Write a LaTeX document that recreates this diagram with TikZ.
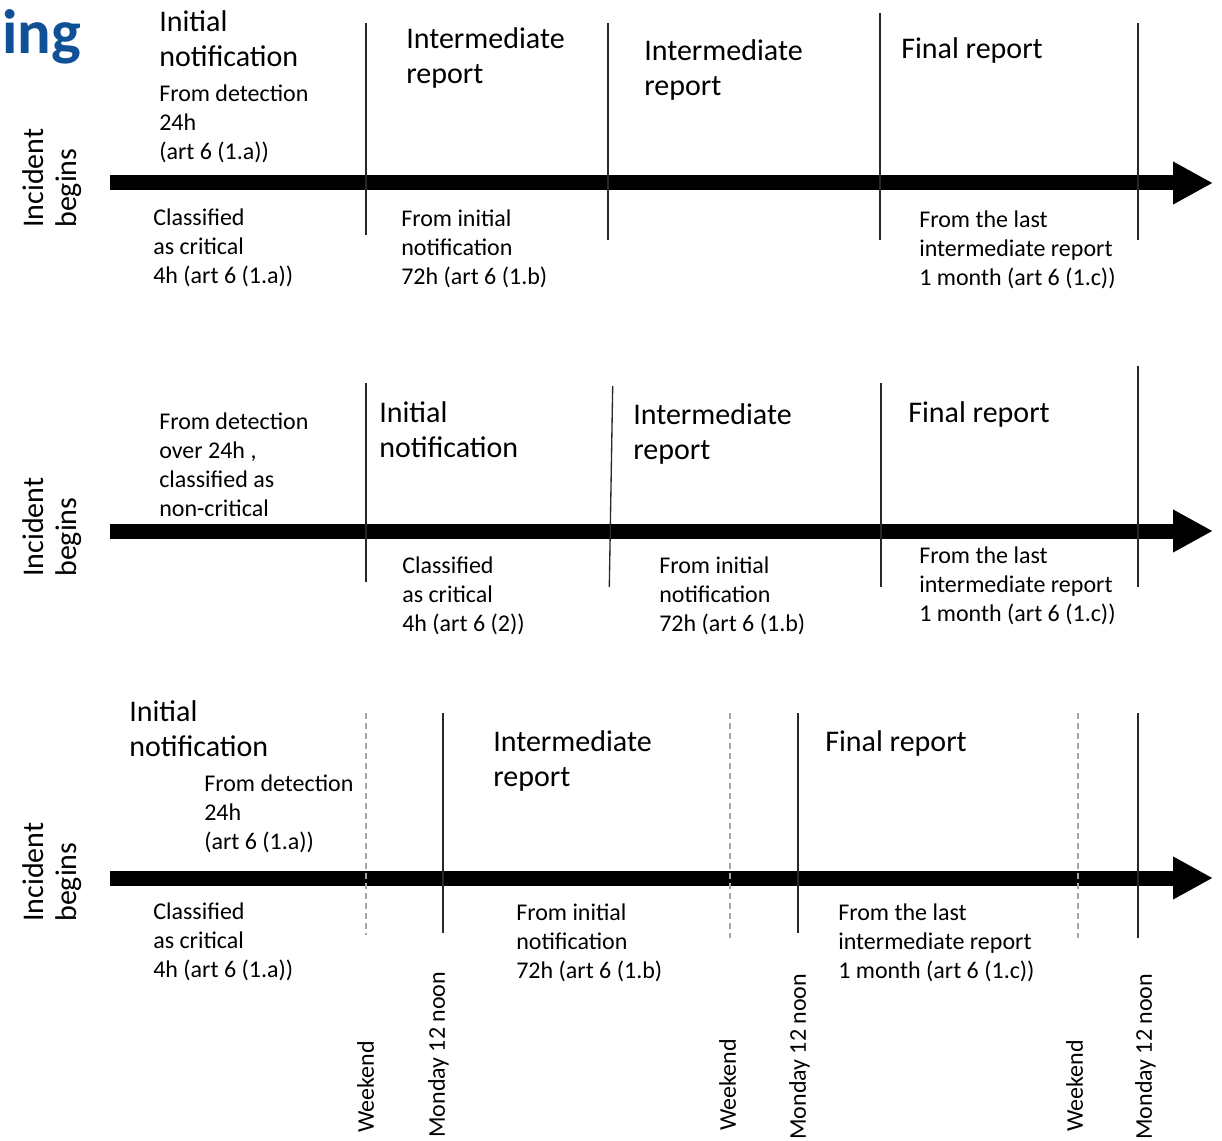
\documentclass[tikz,border=0pt]{standalone}
\usepackage{fontspec}
\setmainfont{Carlito}
\usepackage{xcolor}
\usepackage{tikz}
\usetikzlibrary{arrows.meta,positioning}
\definecolor{titleblue}{RGB}{16, 80, 150}
\definecolor{tickgray}{RGB}{40, 40, 40}
\definecolor{weekendgray}{RGB}{165, 165, 165}

\newcommand{\bigfont}{\fontsize{22.5}{26.25}\selectfont}
\newcommand{\smallfont}{\fontsize{18}{21.75}\selectfont}

\begin{document}
\begin{tikzpicture}[x=0.75pt, y=-0.75pt,
    timeline/.style={line width=11.25pt, -{Triangle[length=30pt, width=30pt]}},
    tickline/.style={line width=1pt, color=tickgray},
    wkline/.style={line width=1pt, color=weekendgray, dash pattern=on 4.5pt off 3pt},
    bigtxt/.style={anchor=north west, inner sep=0pt, align=left, font=\bigfont},
    smalltxt/.style={anchor=north west, inner sep=0pt, align=left, font=\smallfont},
    begintxt/.style={anchor=north west, inner sep=0pt, align=left, rotate=90, font=\fontsize{22.5}{25}\selectfont},
    daytxt/.style={anchor=north west, inner sep=0pt, rotate=90, font=\smallfont}]
    \useasboundingbox (0,0) rectangle (1222,1141);

    % Title fragment
    \node[anchor=base east, inner sep=0pt, text=titleblue, font=\fontsize{47}{52}\selectfont\bfseries] (title) at (81,54) {ing};

    % Timelines
    \foreach \y/\n in {183/1, 531/2, 878/3} {
        \coordinate (start\n) at (110,\y);
        \coordinate (end\n) at (1213,\y);
        \draw[timeline] (start\n) -- (end\n);
    }

    % Row 1 ticks
    \foreach \x/\t/\b in {366/23/235, 608/23/240, 880/13/240, 1138/23/240}
        \draw[tickline] (\x,\t) -- (\x,\b);

    % Row 2 ticks (one slightly slanted)
    \foreach \x/\t/\b in {366/383/582, 881/383/587, 1138/366/587}
        \draw[tickline] (\x,\t) -- (\x,\b);
    \draw[tickline] (612.7,386) -- (609.3,587);

    % Row 3 ticks: solid deadlines, dashed weekends
    \foreach \x/\b in {443/933, 798/933, 1138/938}
        \draw[tickline] (\x,713) -- (\x,\b);
    \foreach \x/\b in {366/935, 730/938, 1078/938}
        \draw[wkline] (\x,713) -- (\x,\b);

    % Incident begins labels
    \node[begintxt] (inc1) at (22,228) {Incident\\begins};
    \node[begintxt] (inc2) at (22,577) {Incident\\begins};
    \node[begintxt] (inc3) at (22,922) {Incident\\begins};

    % Row 1 texts
    \node[bigtxt] (init1) at (159,10) {Initial\\notification};
    \node[smalltxt] (det1) at (159,85) {From detection\\24h\\(art 6 (1.a))};
    \node[bigtxt] (inter1) at (406,27) {Intermediate\\report};
    \node[bigtxt] (interb1) at (644,39) {Intermediate\\report};
    \node[bigtxt] (final1) at (901,37) {Final report};
    \node[smalltxt] (crit1) at (153,209) {Classified\\as critical\\4h (art 6 (1.a))};
    \node[smalltxt] (from1) at (401,210) {From initial\\notification\\72h (art 6 (1.b)};
    \node[smalltxt] (last1) at (919,211) {From the last\\intermediate report\\1 month (art 6 (1.c))};

    % Row 2 texts
    \node[smalltxt] (det2) at (159,413) {From detection\\over 24h ,\\classified as\\non-critical};
    \node[bigtxt] (init2) at (379,401) {Initial\\notification};
    \node[bigtxt] (inter2) at (633,403) {Intermediate\\report};
    \node[bigtxt] (final2) at (908,401) {Final report};
    \node[smalltxt] (crit2) at (402,557) {Classified\\as critical\\4h (art 6 (2))};
    \node[smalltxt] (from2) at (659,557) {From initial\\notification\\72h (art 6 (1.b)};
    \node[smalltxt] (last2) at (919,547) {From the last\\intermediate report\\1 month (art 6 (1.c))};

    % Row 3 texts
    \node[bigtxt] (init3) at (129,700) {Initial\\notification};
    \node[smalltxt] (det3) at (204,775) {From detection\\24h\\(art 6 (1.a))};
    \node[bigtxt] (inter3) at (493,730) {Intermediate\\report};
    \node[bigtxt] (final3) at (825,730) {Final report};
    \node[smalltxt] (crit3) at (153,903) {Classified\\as critical\\4h (art 6 (1.a))};
    \node[smalltxt] (from3) at (516,904) {From initial\\notification\\72h (art 6 (1.b)};
    \node[smalltxt] (last3) at (838,904) {From the last\\intermediate report\\1 month (art 6 (1.c))};

    % Weekend / Monday labels
    \node[daytxt] (wk1) at (357,1133) {Weekend};
    \node[daytxt] (mon1) at (428,1138) {Monday 12 noon};
    \node[daytxt] (wk2) at (719,1131) {Weekend};
    \node[daytxt] (mon2) at (789,1140) {Monday 12 noon};
    \node[daytxt] (wk3) at (1066,1132) {Weekend};
    \node[daytxt] (mon3) at (1135,1140) {Monday 12 noon};
\end{tikzpicture}
\end{document}
